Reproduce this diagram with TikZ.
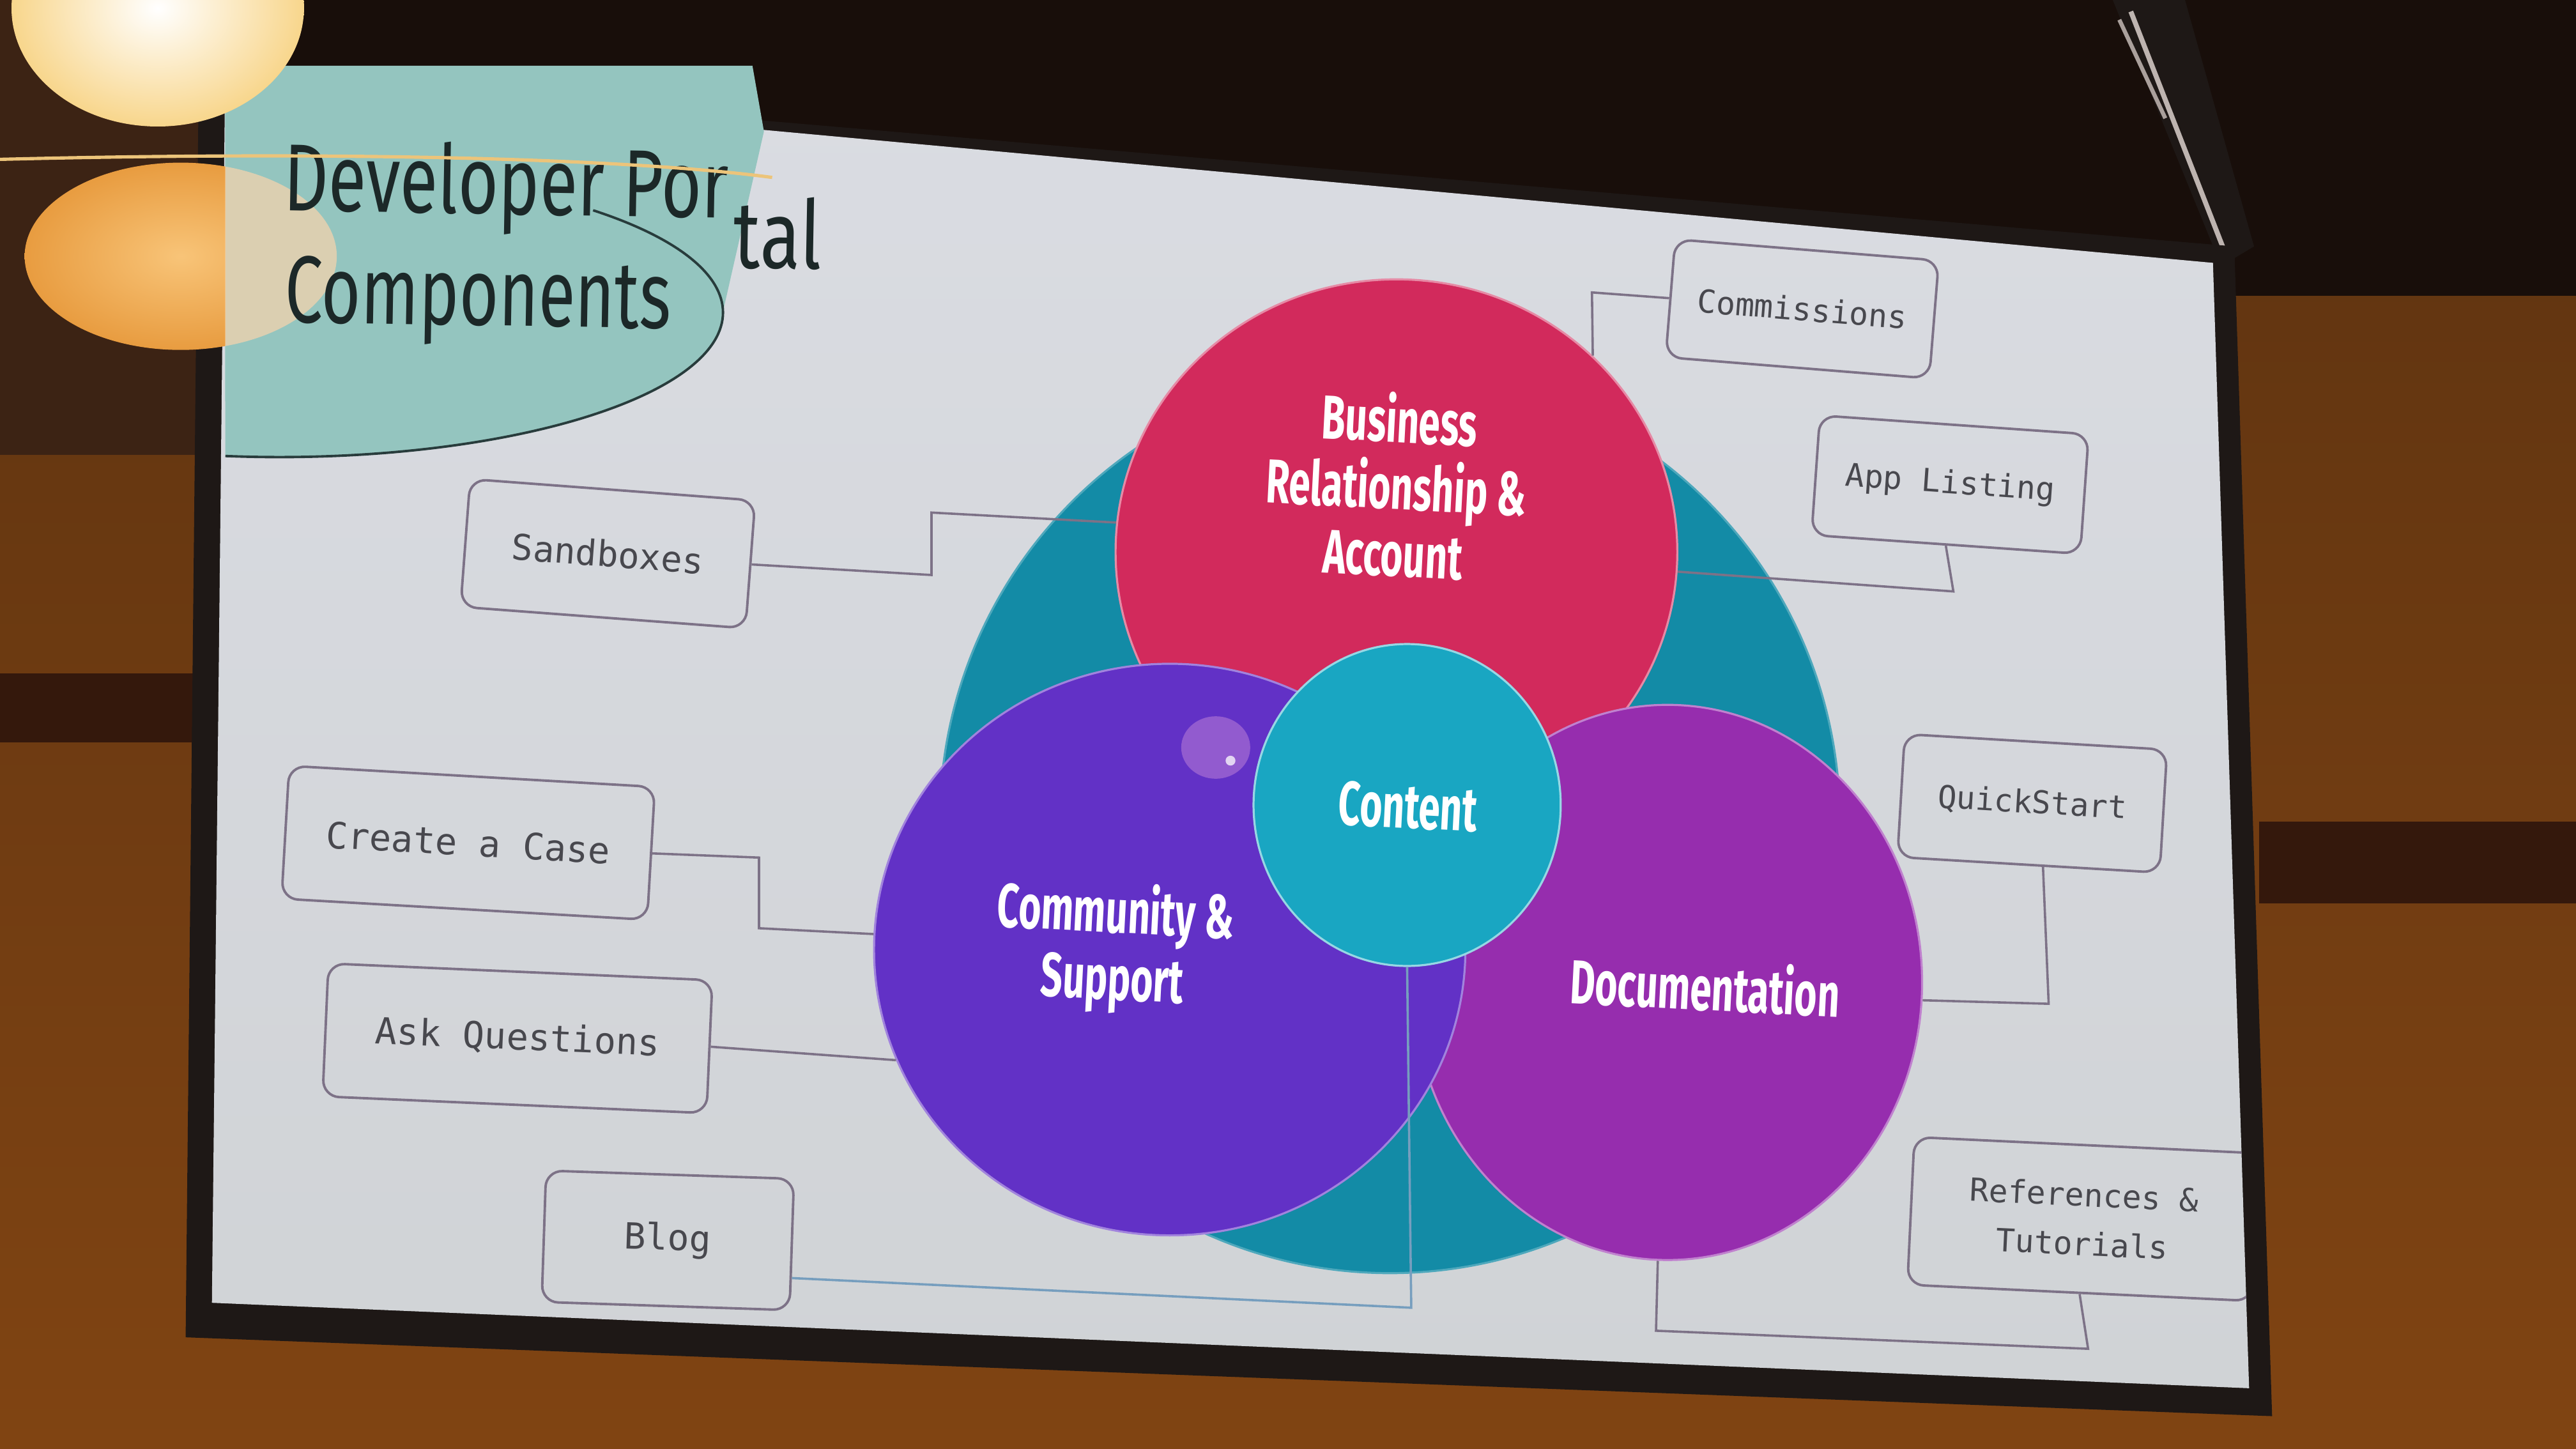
\documentclass[tikz,border=0pt]{standalone}
\usepackage{fontspec}
\usetikzlibrary{shapes.geometric}
\newfontfamily\boxfont{DejaVu Sans Mono}
\newfontfamily\circfont[FakeStretch=0.62]{Fira Sans}
\newfontfamily\headfont[FakeStretch=0.71]{Fira Sans}
\newfontfamily\headmidfont[FakeStretch=0.73]{Fira Sans}
\newfontfamily\headwidefont[FakeStretch=0.78]{Fira Sans}

\definecolor{scrT}{RGB}{218,220,226}
\definecolor{scrB}{RGB}{208,211,214}
\definecolor{tealbg}{RGB}{19,139,166}
\definecolor{redc}{RGB}{210,42,92}
\definecolor{purp}{RGB}{98,49,198}
\definecolor{mag}{RGB}{150,45,174}
\definecolor{cont}{RGB}{25,166,194}
\definecolor{boxline}{RGB}{125,114,135}
\definecolor{boxtext}{RGB}{72,72,78}
\definecolor{blogline}{RGB}{118,158,190}
\definecolor{glass}{RGB}{148,197,191}
\definecolor{ceil}{RGB}{24,14,10}
\definecolor{wallT}{RGB}{92,50,17}
\definecolor{wallB}{RGB}{128,68,18}
\definecolor{leftdark}{RGB}{60,35,20}
\definecolor{stripe}{RGB}{52,24,12}
\definecolor{bezel}{RGB}{30,24,22}
\definecolor{glowIn}{RGB}{248,196,120}
\definecolor{glowOut}{RGB}{232,156,64}
\definecolor{peach}{RGB}{250,212,172}
\definecolor{lampEdge}{RGB}{248,214,140}
\definecolor{rim}{RGB}{236,196,122}
\definecolor{headtext}{RGB}{28,40,40}
\definecolor{sheen}{RGB}{236,170,225}

\begin{document}
\begin{tikzpicture}[x=0.02cm,y=-0.02cm,
  pbox/.style={draw=boxline, line width=0.03cm, rounded corners=0.2cm,
    inner sep=0pt, text=boxtext, align=center},
  conn/.style={draw=boxline, line width=0.028cm},
  blob/.style={ellipse, inner sep=0pt, line width=0.025cm},
  lbl/.style={text=white, align=center, inner sep=0pt, rotate=-3,
    font=\circfont\bfseries\fontsize{21.5}{23.2}\selectfont},
  headtxt/.style={text=headtext, inner sep=0pt, rotate=-1,
    font=\headfont\fontsize{33}{36}\selectfont},
]
\useasboundingbox (0,0) rectangle (1568,882);

% room: wall, ceiling, dark bands
\shade[top color=wallT, bottom color=wallB] (0,0) rectangle (1568,882);
\fill[ceil] (137,0) rectangle (1568,180);
\fill[leftdark] (0,0) rectangle (137,277);
\fill[stripe] (0,410) rectangle (125,452);
\fill[stripe] (1375,500) rectangle (1568,550);

% projector bracket in the top right corner
\fill[bezel] (1286,0) -- (1330,0) -- (1372,150) -- (1352,162) -- cycle;
\draw[line width=0.06cm, color={rgb,255:red,190;green,180;blue,176}] (1297,7) -- (1356,158);
\draw[line width=0.05cm, color={rgb,255:red,170;green,160;blue,156}] (1290,12) -- (1318,72);

% screen frame and face
\fill[bezel] (121,44) -- (1360,150) -- (1383,862) -- (113,814) -- cycle;
\shade[top color=scrT, bottom color=scrB] (137,49) -- (1347,160) -- (1369,845) -- (129,793) -- cycle;

\begin{scope}
\clip (137,49) -- (1347,160) -- (1369,845) -- (129,793) -- cycle;

% component boxes
\node[pbox, font=\boxfont\fontsize{11}{17}\selectfont, minimum width=3.22cm, minimum height=1.44cm, rotate=-4.6] (comm) at (1097,188) {Commissions};
\node[pbox, font=\boxfont\fontsize{11}{17}\selectfont, minimum width=3.28cm, minimum height=1.46cm, rotate=-4.0] (app) at (1187,295) {App Listing};
\node[pbox, font=\boxfont\fontsize{12.3}{17}\selectfont, minimum width=3.48cm, minimum height=1.56cm, rotate=-4.3] (sand) at (370,337) {Sandboxes};
\node[pbox, font=\boxfont\fontsize{12.6}{17}\selectfont, minimum width=4.46cm, minimum height=1.62cm, rotate=-3.3] (case) at (285,513) {Create a Case};
\node[pbox, font=\boxfont\fontsize{12.6}{17}\selectfont, minimum width=4.68cm, minimum height=1.62cm, rotate=-2.5] (ask) at (315,632) {Ask Questions};
\node[pbox, font=\boxfont\fontsize{12.5}{17}\selectfont, minimum width=3.02cm, minimum height=1.60cm, rotate=-1.9] (blog) at (406.5,755) {Blog};
\node[pbox, font=\boxfont\fontsize{10.9}{17}\selectfont, minimum width=3.20cm, minimum height=1.50cm, rotate=-3.4] (qs) at (1237,489) {QuickStart};
\node[pbox, font=\boxfont\fontsize{11}{17}\selectfont, minimum width=4.20cm, minimum height=1.80cm, rotate=-2.7] (refs) at (1268,742) {References \&\\Tutorials};

% overlapping circles
\node[blob, fill=tealbg, draw=tealbg!75!white, minimum width=10.96cm, minimum height=11cm] (hub) at (846,500) {};
\node[blob, fill=redc, draw=redc!55!white, minimum width=6.84cm, minimum height=6.64cm] (red) at (850,336) {};
\node[blob, fill=mag, draw=mag!60!white, minimum width=6.20cm, minimum height=6.76cm] (mag) at (1015,598) {};
\node[blob, fill=purp, draw=purp!60!white, minimum width=7.20cm, minimum height=6.96cm] (purp) at (712,578) {};
% light sheen on the purple circle
\fill[sheen, opacity=0.35] (740,455) ellipse [x radius=21, y radius=19];
\fill[white, opacity=0.75] (749,463) circle [radius=3];
\node[blob, fill=cont, draw=cont!45!white, minimum width=3.74cm, minimum height=3.92cm] (content) at (856.5,490) {};

% connectors from the boxes to the circles
\draw[conn] (sand.east) -- (567,350) -- (567,312) -- (red.174);
\draw[conn] (comm.west) -- (969,178) -- (red.45);
\draw[conn] (app.south) -- (1189,360) -- (red.-4);
\draw[conn] (case.east) -- (462,522) -- (462,565) -- (purp.177);
\draw[conn] (ask.east) -- (purp.202);
\draw[conn] (qs.-77) -- (1247,611) -- (mag.-4);
\draw[conn] (refs.south) -- (1271,821) -- (1008,810) -- (mag.268);
\draw[draw=blogline, line width=0.028cm] (blog.-15) -- (859,796) -- (content.south);

% circle labels
\node[lbl] (lred) at (850,295) {Business\\Relationship \&\\Account};
\node[lbl] (lcont) at (857,491) {Content};
\node[lbl] (lpurp) at (678,577) {Community \&\\Support};
\node[lbl] (lmag) at (1038,600) {Documentation};
\end{scope}

% glass lamp shade in front of the title
\fill[glass] (137,40) -- (458,40) -- (465,80) -- (440,190)
  arc[start angle=0, end angle=97, x radius=270, y radius=88] -- cycle;
\draw[color={rgb,255:red,40;green,60;blue,60}, line width=0.03cm]
  (361,128) arc[start angle=-45, end angle=97, x radius=270, y radius=88];

% warm glow of the lamp
\begin{scope}
\clip (0,0) rectangle (137,300);
\shade[inner color=glowIn, outer color=glowOut] (110,156) ellipse [x radius=95, y radius=57];
\end{scope}
\begin{scope}
\clip (137,0) rectangle (300,300);
\fill[peach, opacity=0.7] (110,156) ellipse [x radius=95, y radius=57];
\end{scope}

% title: the part seen through the glass sits higher than the rest
\node[headtxt, font=\headmidfont\fontsize{33}{36}\selectfont, anchor=base west] (titleA) at (172,128) {Developer Por};
\node[headtxt, font=\headwidefont\fontsize{33}{36}\selectfont, anchor=base west] (titleB) at (446,163) {tal};
\node[headtxt, anchor=base west] (titleC) at (173,196) {Components};

% lamp bulb and glass rim
\shade[inner color=white, outer color=lampEdge] (96,5) ellipse [x radius=89, y radius=72];
\draw[rim, line width=0.04cm] (0,97) .. controls (200,92) and (380,96) .. (470,108);
\end{tikzpicture}
\end{document}
